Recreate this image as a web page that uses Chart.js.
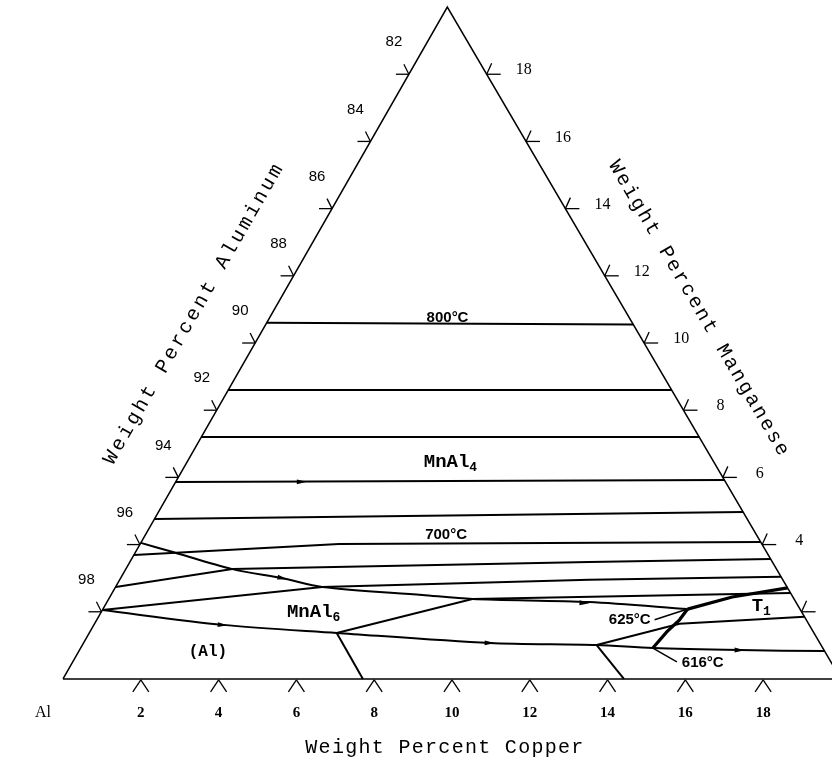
<!DOCTYPE html>
<html>
<head>
<meta charset="utf-8">
<script src="https://cdn.jsdelivr.net/npm/chart.js@4"></script>
<style>
  html, body { margin: 0; padding: 0; background: #fff; }
  canvas { display: block; }
</style>
</head>
<body>
<canvas id="tern" width="832" height="769"></canvas>
<script>
// compositions are [wt% Cu, wt% Mn]; Al is the balance
const cuTicks = [2, 4, 6, 8, 10, 12, 14, 16, 18];
const alTicks = [82, 84, 86, 88, 90, 92, 94, 96, 98];
const mnTicks = [2, 4, 6, 8, 10, 12, 14, 16, 18];

const outline = [[0, 0], [0, 20], [20, 0], [0, 0]];

// isotherms / tie lines
const line800 = [[0, 10.6], [9.45, 10.55]];
const line780 = [[0, 8.6], [11.4, 8.6]];
const line760 = [[0, 7.2], [12.8, 7.2]];
const line740 = [[0, 5.86], [14.08, 5.92]];
const line720 = [[0, 4.76], [15.03, 4.97]];
const line700 = [[0, 3.69], [5.11, 4.02], [15.92, 4.08]];
const line680 = [[0, 2.74], [2.74, 3.27], [11.81, 3.48], [16.43, 3.57]];
const line660 = [[0, 2.05], [5.31, 2.74], [12.07, 2.95], [16.96, 3.04]];
const line640 = [[6.36, 1.37], [9.35, 2.38], [17.44, 2.56]];
const line620 = [[13.22, 1.01], [15.04, 1.64], [18.15, 1.85]];

// univariant valleys and boundaries
const valleyUpper = [[0, 4.05], [0.85, 3.81], [2.74, 3.27], [4.16, 3.0], [5.31, 2.74], [8.0, 2.5], [9.35, 2.38], [12.4, 2.29], [15.03, 2.08]];
const valleyLower = [[0, 2.05], [3.31, 1.61], [6.36, 1.37], [10.44, 1.07], [13.22, 1.01], [14.71, 0.92], [16.97, 0.86], [19.17, 0.83]];
const t1Left = [[14.71, 0.92], [14.83, 1.4], [14.98, 1.76], [15.03, 2.08]];
const t1Top = [[15.03, 2.08], [16.0, 2.44], [17.29, 2.71]];
const mnal6Foot = [[6.36, 1.37], [7.71, 0]];
const alFoot = [[13.22, 1.01], [14.42, 0]];
const lead625 = [[15.03, 2.08], [14.34, 1.76]];
const lead616 = [[14.71, 0.92], [15.53, 0.51]];

// arrows: [position, point it heads toward]
const arrows = [
  [[4.16, 3.0], [5.31, 2.74]],
  [[12.29, 2.26], [15.03, 2.08]],
  [[3.31, 1.61], [6.36, 1.37]],
  [[10.44, 1.07], [13.22, 1.01]],
  [[16.97, 0.86], [19.17, 0.83]],
  [[3.24, 5.87], [5.0, 5.88]]
];

// region / temperature labels at [Cu, Mn]
const labels = [
  { t: '800°C', at: [4.58, 10.74], kind: 'temp' },
  { t: '700°C', at: [7.73, 4.29], kind: 'temp' },
  { t: '625°C', at: [13.7, 1.76], kind: 'temp' },
  { t: '616°C', at: [16.21, 0.48], kind: 'temp' },
  { t: 'MnAl', sub: '4', at: [6.77, 6.46], kind: 'phase' },
  { t: 'MnAl', sub: '6', at: [5.46, 1.99], kind: 'phase' },
  { t: '(Al)', at: [3.33, 0.80], kind: 'phase' },
  { t: 'T', sub: '1', at: [16.88, 2.17], kind: 'phase' }
];

// the printed triangle leans a touch left, so Mn shifts x by slightly under half
const SKEW = 0.494;
const toXY = pts => pts.map(([cu, mn]) => ({ x: cu + mn * SKEW, y: mn }));

const lineSet = (pts, w) => ({
  data: toXY(pts),
  showLine: true,
  borderColor: '#000',
  borderWidth: w,
  pointRadius: 0,
  fill: false,
  tension: 0
});

const datasets = [
  lineSet(outline, 1.5),
  lineSet(line800, 2), lineSet(line780, 2), lineSet(line760, 2),
  lineSet(line740, 2), lineSet(line720, 2), lineSet(line700, 2),
  lineSet(line680, 2), lineSet(line660, 2), lineSet(line640, 2),
  lineSet(line620, 2),
  { ...lineSet(valleyUpper, 2), tension: 0.3 },
  { ...lineSet(valleyLower, 2), tension: 0.3 },
  lineSet(t1Left, 3.2), lineSet(t1Top, 3.2),
  lineSet(mnal6Foot, 2), lineSet(alFoot, 2),
  lineSet(lead625, 1.5), lineSet(lead616, 1.5)
];

const decor = {
  id: 'decor',
  afterDatasetsDraw(chart) {
    const ctx = chart.ctx;
    const xs = chart.scales.x, ys = chart.scales.y;
    const pix = (cu, mn) => ({ x: xs.getPixelForValue(cu + mn * SKEW), y: ys.getPixelForValue(mn) });
    ctx.save();
    ctx.strokeStyle = '#000';
    ctx.fillStyle = '#000';
    ctx.lineWidth = 1.3;

    const seg = (p, dx, dy) => {
      ctx.beginPath(); ctx.moveTo(p.x, p.y); ctx.lineTo(p.x + dx, p.y + dy); ctx.stroke();
    };
    const text = (s, x, y, font, align, base) => {
      ctx.font = font;
      ctx.textAlign = align || 'center';
      ctx.textBaseline = base || 'middle';
      ctx.fillText(s, x, y);
    };

    // bottom ticks: Cu
    cuTicks.forEach(v => {
      const p = pix(v, 0);
      p.y += 1;
      seg(p, -8, 12); seg(p, 8, 12);
      text(String(v), p.x, p.y + 33, 'bold 15px "Liberation Serif"');
    });
    text('Al', pix(0, 0).x - 20, pix(0, 0).y + 34, '16px "Liberation Serif"');

    // left ticks: Al
    alTicks.forEach(v => {
      const p = pix(0, 100 - v);
      seg(p, -13, 0); seg(p, -5, -10);
      text(String(v), p.x - 15, p.y - 32, '15px "Liberation Sans"');
    });

    // right ticks: Mn
    mnTicks.forEach(v => {
      const p = pix(20 - v, v);
      seg(p, 14, 0); seg(p, 5, -11);
      text(String(v), p.x + 37, p.y - 4, '16px "Liberation Serif"');
    });

    // arrows along the valleys
    arrows.forEach(([a, b]) => {
      const p = pix(a[0], a[1]), q = pix(b[0], b[1]);
      const ang = Math.atan2(q.y - p.y, q.x - p.x);
      ctx.save();
      ctx.translate(p.x, p.y);
      ctx.rotate(ang);
      ctx.beginPath();
      ctx.moveTo(5, 0); ctx.lineTo(-5, -2.4); ctx.lineTo(-5, 2.4); ctx.closePath();
      ctx.fill();
      ctx.restore();
    });

    // labels
    labels.forEach(l => {
      const p = pix(l.at[0], l.at[1]);
      if (l.kind === 'temp') {
        text(l.t, p.x, p.y, 'bold 15px "Liberation Sans"');
        return;
      }
      const main = l.t === '(Al)' ? 'bold 16px "Liberation Mono"' : 'bold 19px "Liberation Mono"';
      const subF = 'bold 13px "Liberation Mono"';
      ctx.font = main;
      const w1 = ctx.measureText(l.t).width;
      let w2 = 0;
      if (l.sub) { ctx.font = subF; w2 = ctx.measureText(l.sub).width; }
      const x0 = p.x - (w1 + w2) / 2;
      text(l.t, x0, p.y, main, 'left', 'middle');
      if (l.sub) text(l.sub, x0 + w1, p.y + 6, subF, 'left', 'middle');
    });

    // axis titles
    const c0 = pix(0, 0), top = pix(0, 20), c1 = pix(20, 0);
    const title = (s, x, y, ang, ls) => {
      ctx.save();
      ctx.translate(x, y);
      ctx.rotate(ang);
      ctx.font = '20px "Liberation Mono"';
      ctx.letterSpacing = ls + 'px';
      ctx.textAlign = 'center';
      ctx.textBaseline = 'middle';
      ctx.fillText(s, 0, 0);
      ctx.restore();
    };
    const midL = pix(0, 10), midR = pix(10, 10);
    title('Weight Percent Aluminum', midL.x - 61, midL.y - 30,
      Math.atan2(top.y - c0.y, top.x - c0.x), 3);
    title('Weight Percent Manganese', midR.x + 55, midR.y - 34,
      Math.atan2(c1.y - top.y, c1.x - top.x), 2.2);
    title('Weight Percent Copper', pix(10, 0).x - 7, c0.y + 69, 0, 1.3);

    ctx.restore();
  }
};

new Chart(document.getElementById('tern'), {
  type: 'scatter',
  data: { datasets },
  options: {
    responsive: false,
    animation: false,
    events: [],
    layout: { padding: 0 },
    plugins: { legend: { display: false }, tooltip: { enabled: false } },
    scales: {
      x: { type: 'linear', min: -1.62, max: 19.77, display: false },
      y: { type: 'linear', min: -2.68, max: 20.21, display: false }
    }
  },
  plugins: [decor]
});
</script>
</body>
</html>
